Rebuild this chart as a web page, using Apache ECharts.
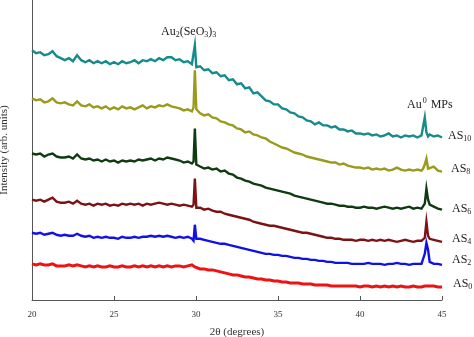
<!DOCTYPE html>
<html><head><meta charset="utf-8">
<script src="https://cdn.jsdelivr.net/npm/echarts@6/dist/echarts.min.js"></script>
<style>html,body{margin:0;padding:0;background:#fff}#c{width:474px;height:337px}</style>
</head><body><div id="c"></div>
<script>
const xs = [20,20.25,20.5,20.75,21,21.25,21.5,21.75,22,22.25,22.5,22.75,23,23.25,23.5,23.75,24,24.25,24.5,24.75,25,25.25,25.5,25.75,26,26.25,26.5,26.75,27,27.25,27.5,27.75,28,28.25,28.5,28.75,29,29.25,29.5,29.75,
29.85,29.93,30.02,
30.25,30.5,30.75,31,31.25,31.5,31.75,32,32.25,32.5,32.75,33,33.25,33.5,33.75,34,34.25,34.5,34.75,35,35.25,35.5,35.75,36,36.25,36.5,36.75,37,37.25,37.5,37.75,38,38.25,38.5,38.75,39,39.25,39.5,39.75,40,40.25,40.5,40.75,41,41.25,41.5,41.75,42,42.25,42.5,42.75,43,43.25,43.5,43.75,
43.85,43.95,44.05,44.15,44.25,
44.5,44.75,45];

const as10 = [249,246,247,244,245,248,243,241,239,241,238,244,239,237,239,236,238,236,238,235,237,235,238,236,237,239,236,239,238,240,238,241,239,242,242,239,240,237,238,235,
236,254,232,
233,229,230,226,227,223,224,219,220,215,216,211,212,206,207,203,199,198,195,195,191,190,187,186,183,182,179,178,175,177,174,174,172,173,170,170,168,169,166,166,165,166,164,165,163,164,166,163,164,162,164,163,164,162,164,
165,182,167,163,165,
163,164,162];

const as8 = [201,199,200,197,198,201,197,196,197,195,194,198,194,193,195,192,193,191,193,190,192,190,193,191,192,190,192,194,191,193,192,194,193,195,193,192,191,189,190,188,
192,229,190,
186,184,185,182,181,178,177,175,174,171,170,167,168,165,164,162,161,158,156,154,152,151,149,147,146,145,143,142,141,140,139,138,137,137,135,136,134,133,132,132,131,132,130,131,130,131,129,130,132,130,129,130,129,130,129,
131,135,141,131,130,
133,129,128];

const as6 = [146,145,146,143,145,146,143,142,142,143,141,145,141,140,141,139,140,138,140,138,139,137,139,138,139,138,140,139,140,141,139,141,140,142,141,140,139,137,138,136,
138,171,135,
133,131,132,130,131,128,129,126,125,122,121,119,118,116,115,114,112,111,110,109,108,107,106,104,103,102,101,100,99,98,97,96,96,95,94,94,93,93,92,92,93,92,92,91,92,93,92,91,92,91,92,93,91,92,91,
92,96,111,100,95,
93,91,90];

const as4 = [100,99,100,98,100,102,98,97,97,98,96,99,96,95,96,94,96,95,96,94,95,94,96,95,96,95,96,94,96,95,96,97,96,95,96,95,94,95,94,93,
95,121,92,
92,90,91,89,88,88,86,85,84,83,82,81,80,78,77,76,75,74,74,73,72,71,70,69,68,67,67,66,65,64,63,62,62,61,61,60,60,60,59,60,60,59,60,59,60,59,60,59,58,59,60,59,58,59,59,
59,62,78,64,61,
60,59,58];

const as2 = [67,66,67,65,66,67,65,64,65,64,64,66,64,63,64,62,63,62,63,62,62,61,63,62,62,63,62,63,63,64,63,64,63,64,63,62,63,62,63,61,
59,75,61,
61,60,59,58,57,56,56,55,54,53,52,51,50,49,48,47,46,46,45,45,44,44,43,42,42,41,41,40,40,39,39,38,38,37,37,37,37,36,36,36,36,37,36,36,36,35,36,36,37,36,36,35,36,36,36,
36,46,57,50,38,
36,36,35];

const as0 = [36,35,36,35,35,36,34,34,34,35,34,35,34,33,34,33,34,33,33,34,33,33,34,33,33,34,33,34,33,34,33,34,33,34,33,34,34,33,34,35,
34,33,32,
31,31,30,30,29,28,27,26,25,25,24,23,23,22,21,21,20,20,19,19,18,18,17,17,17,16,16,16,15,15,15,15,14,14,14,14,14,14,14,13,14,14,13,14,13,14,13,14,13,14,13,13,14,13,13,
13,14,13,14,13,
14,13,13];

const xTicks = [20,25,30,35,40,45];
const seriesNames = ['AS10','AS8','AS6','AS4','AS2','AS0'];
const seriesSubs = ['10','8','6','4','2','0'];
const seriesData = [as10, as8, as6, as4, as2, as0];
const colors = ['#178a8c','#9a9a1c','#0f3a12','#7d1214','#1010e8','#ee1212'];
const widths = [2.4,2.4,2.4,2.4,2.4,3];

const serif = '"Liberation Serif","Times New Roman",serif';
const chart = echarts.init(document.getElementById('c'), null, {renderer:'canvas'});

const series = seriesData.map((arr, i) => ({
  name: seriesNames[i], type: 'line', showSymbol: false, animation: false,
  data: arr.map((v, k) => [xs[k], v]),
  lineStyle: {color: colors[i], width: widths[i], join: 'miter'},
  itemStyle: {color: colors[i]}
}));

const labelPos = [[448,136],[451,169],[452,209],[452,239],[452,260],[453,284]];
const graphics = seriesNames.map((n, i) => ({
  type: 'text', left: labelPos[i][0], top: labelPos[i][1] - 8,
  style: {
    text: '{b|AS}{s|' + seriesSubs[i] + '}',
    rich: {
      b: {fontFamily: serif, fontSize: 12, fill: '#222', lineHeight: 16},
      s: {fontFamily: serif, fontSize: 8, fill: '#222', lineHeight: 16, padding: [7,0,0,0]}
    }
  }
}));
graphics.push({
  type: 'text', left: 161, top: 24,
  style: {
    text: '{b|Au}{s|2}{b|(SeO}{s|3}{b|)}{s|3}',
    rich: {
      b: {fontFamily: serif, fontSize: 12, fill: '#222', lineHeight: 16},
      s: {fontFamily: serif, fontSize: 8, fill: '#222', lineHeight: 16, padding: [7,0,0,0]}
    }
  }
});
graphics.push({
  type: 'text', left: 407, top: 97,
  style: {
    text: '{b|Au}{p|0}{b| MPs}',
    rich: {
      b: {fontFamily: serif, fontSize: 12, fill: '#222', lineHeight: 16},
      p: {fontFamily: serif, fontSize: 8, fill: '#222', lineHeight: 16, padding: [0,1,7,1]}
    }
  }
});

chart.setOption({
  animation: false,
  grid: {left: 32, right: 32, top: 0, bottom: 37, containLabel: false, outerBoundsMode: 'none'},
  xAxis: {
    type: 'value', min: 20, max: 45, interval: 5,
    name: '2θ (degrees)', nameLocation: 'middle', nameGap: 27,
    nameTextStyle: {fontFamily: serif, fontSize: 11, color: '#333'},
    axisLine: {lineStyle: {color: '#555', width: 1}},
    axisTick: {inside: true, length: 4, lineStyle: {color: '#555'}},
    axisLabel: {fontFamily: serif, fontSize: 9, color: '#333', margin: 10,
      formatter: v => xTicks.includes(v) ? String(v) : ''},
    splitLine: {show: false}
  },
  yAxis: {
    type: 'value', min: 0, max: 299,
    name: 'Intensity (arb. units)', nameLocation: 'middle', nameGap: 22,
    nameTextStyle: {fontFamily: serif, fontSize: 11, color: '#333'},
    axisLine: {show: true, lineStyle: {color: '#555', width: 1}},
    axisTick: {show: false}, axisLabel: {show: false}, splitLine: {show: false}
  },
  series: series,
  graphic: graphics
});
</script></body></html>
